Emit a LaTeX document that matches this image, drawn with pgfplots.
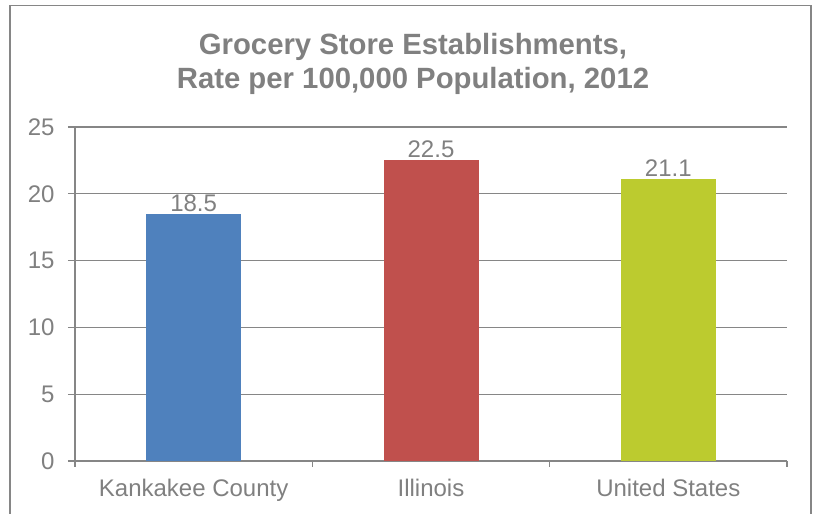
\documentclass[border=0pt]{standalone}
\usepackage{fontspec}
\setmainfont{Liberation Sans}
\usepackage{pgfplots}
\pgfplotsset{compat=1.18}
\definecolor{txtgray}{HTML}{808080}
\definecolor{linegray}{HTML}{868686}
\definecolor{cblue}{HTML}{4F81BD}
\definecolor{cred}{HTML}{C0504D}
\definecolor{cgreen}{HTML}{BCCB2F}
\begin{document}
\begin{tikzpicture}[x=1pt,y=1pt]
\path[use as bounding box] (0,0) rectangle (820,514);
\draw[linegray, line width=1.6pt] (10,-5) -- (10,508.5) -- (811,508.5) -- (811,-5);
\node[align=center, font=\fontsize{29.3}{34}\selectfont\bfseries, text=txtgray] at (413, 450) {Grocery Store Establishments,\\Rate per 100,000 Population, 2012};
\begin{axis}[
  at={(75pt,53pt)}, anchor=south west,
  scale only axis, width=712pt, height=334pt,
  xmin=-0.5, xmax=2.5, ymin=0, ymax=25,
  ybar, bar width=95pt,
  every axis plot/.append style={bar shift=0pt},
  ytick={0,5,...,25},
  xtick={0,1,2},
  xticklabels={Kankakee County, Illinois, United States},
  minor xtick={-0.5,0.5,1.5,2.5},
  axis x line=bottom, axis y line=left,
  axis line style={-, linegray, line width=1.3pt},
  tick style={linegray, line width=1.3pt},
  major x tick style={draw=none},
  tick align=outside,
  major tick length=7pt, minor tick length=6pt,
  ymajorgrids, major grid style={linegray, line width=1.3pt},
  ticklabel style={font=\fontsize{24}{28}\selectfont, text=txtgray},
  yticklabel style={xshift=-10pt},
  xticklabel style={yshift=-8pt},
  /pgf/number format/assume math mode=true,
  nodes near coords,
  nodes near coords style={font=\fontsize{24}{28}\selectfont, text=txtgray, inner sep=2pt},
]
\addplot[fill=cblue, draw=none] coordinates {(0,18.5)};
\addplot[fill=cred, draw=none] coordinates {(1,22.5)};
\addplot[fill=cgreen, draw=none] coordinates {(2,21.1)};
\end{axis}
\end{tikzpicture}
\end{document}
